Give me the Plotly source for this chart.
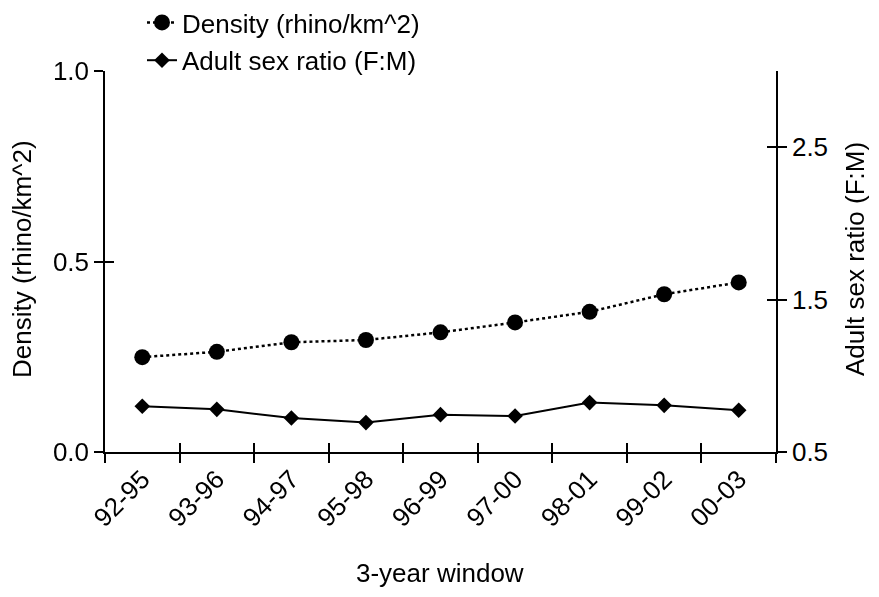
import plotly.graph_objects as go

windows = ["92-95", "93-96", "94-97", "95-98", "96-99", "97-00", "98-01", "99-02", "00-03"]
density = [0.249, 0.263, 0.288, 0.294, 0.314, 0.340, 0.368, 0.414, 0.445]
sex_ratio = [0.80, 0.78, 0.723, 0.693, 0.745, 0.736, 0.824, 0.806, 0.774]

FONT = "Liberation Sans, Arial, sans-serif"
FS = 26
W, H = 863, 581  # page body has an 8px margin on every side
ML, MR, MT, MB = 97, 95, 63, 137
PW, PH = W - ML - MR, H - MT - MB


def px_to_paper(px, py):
    return (px - ML) / PW, (H - MB - py) / PH


fig = go.Figure()

fig.add_trace(go.Scatter(
    x=windows, y=density, name="Density (rhino/km^2)", mode="lines+markers",
    line=dict(color="black", width=2.5, dash="dot"),
    marker=dict(symbol="circle", size=16, color="black"),
    legendgroup="a", xaxis="x", yaxis="y"))
fig.add_trace(go.Scatter(
    x=windows, y=sex_ratio, name="Adult sex ratio (F:M)", mode="lines+markers",
    line=dict(color="black", width=2),
    marker=dict(symbol="diamond", size=12, color="black"),
    legendgroup="b", xaxis="x", yaxis="y2"))
# invisible traces to carry the inner half of the cross ticks
fig.add_trace(go.Scatter(x=windows, y=density, mode="markers", opacity=0,
                         showlegend=False, hoverinfo="skip", xaxis="x3", yaxis="y3"))
fig.add_trace(go.Scatter(x=windows, y=sex_ratio, mode="markers", opacity=0,
                         showlegend=False, hoverinfo="skip", xaxis="x3", yaxis="y4"))

tickfont = dict(family=FONT, size=FS, color="black")
common_x = dict(type="category", categoryorder="array", categoryarray=windows,
                range=[-0.5, 8.5], tickson="boundaries", showgrid=False,
                zeroline=False, tickcolor="black", tickwidth=1.5, ticklen=9)

titles = [
    ("3-year window", 432, 565, 0),
    ("Density (rhino/km^2)", 14, 251, -90),
    ("Adult sex ratio (F:M)", 847, 251, -90),
]
annotations = []
for text, px, py, ang in titles:
    ax, ay = px_to_paper(px, py)
    annotations.append(dict(text=text, x=ax, y=ay, xref="paper", yref="paper",
                            xanchor="center", yanchor="middle", textangle=ang,
                            showarrow=False, font=tickfont))

lx, ly = px_to_paper(134, -9)

fig.update_layout(
    width=W, height=H,
    margin=dict(l=ML, r=MR, t=MT, b=MB, autoexpand=False),
    paper_bgcolor="white", plot_bgcolor="white",
    font=dict(family=FONT, size=FS, color="black"),
    showlegend=True,
    legend=dict(xref="paper", yref="paper", x=lx, y=ly,
                xanchor="left", yanchor="top", bgcolor="rgba(0,0,0,0)",
                font=dict(family=FONT, size=FS, color="black"),
                traceorder="grouped", tracegroupgap=1),
    annotations=annotations,
    xaxis=dict(**common_x, ticks="outside", tickangle=-45, tickfont=tickfont,
               showline=True, linecolor="black", linewidth=1.5, automargin=False),
    xaxis3=dict(**common_x, overlaying="x", ticks="inside", showticklabels=False,
                showline=False, anchor="y"),
    yaxis=dict(range=[0, 1], dtick=0.5, tick0=0, tickformat=".1f", ticks="outside",
               ticklen=9, tickcolor="black", tickwidth=1.5, showgrid=False,
               zeroline=False, showline=True, linecolor="black", linewidth=1.5,
               tickfont=tickfont, automargin=False),
    yaxis3=dict(range=[0, 1], dtick=0.5, tick0=0, overlaying="y", ticks="inside",
                ticklen=9, tickcolor="black", tickwidth=1.5, showgrid=False,
                zeroline=False, showticklabels=False, anchor="x"),
    yaxis2=dict(range=[0.5, 3.0], dtick=1, tick0=0.5, tickformat=".1f", side="right",
                overlaying="y", anchor="x", ticks="outside", ticklen=9,
                tickcolor="black", tickwidth=1.5, showgrid=False, zeroline=False,
                showline=True, linecolor="black", linewidth=1.5, tickfont=tickfont,
                automargin=False),
    yaxis4=dict(range=[0.5, 3.0], dtick=1, tick0=0.5, side="right", overlaying="y",
                anchor="x", ticks="inside", ticklen=9, tickcolor="black",
                tickwidth=1.5, showgrid=False, zeroline=False, showticklabels=False),
)

fig.write_html("out.html")
